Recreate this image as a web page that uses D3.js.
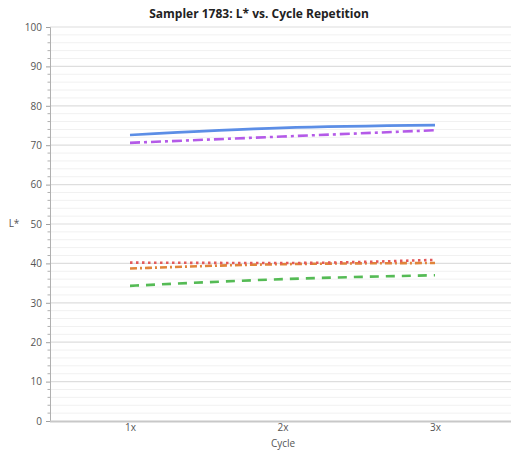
<!DOCTYPE html>
<html>
<head>
<meta charset="utf-8">
<script src="https://cdn.jsdelivr.net/npm/d3@7"></script>
<style>
  html, body { margin: 0; padding: 0; background: #fff; }
  svg { display: block; }
</style>
</head>
<body>
<svg id="chart" width="511" height="451"></svg>
<script>
// Cycle categories on the x axis
const cycles = ["1x", "2x", "3x"];
// L* readings per sample series
const seriesBlue   = [72.6, 74.4, 75.1];
const seriesPurple = [70.6, 72.2, 73.8];
const seriesRed    = [40.2, 40.1, 40.9];
const seriesOrange = [38.7, 39.8, 40.1];
const seriesGreen  = [34.3, 36.0, 37.0];
const yTicks = [0, 10, 20, 30, 40, 50, 60, 70, 80, 90, 100];

const series = [
  { values: seriesGreen,  color: "#55bb55", dash: "9,7" },
  { values: seriesOrange, color: "#e0843a", dash: "7,3,2,3" },
  { values: seriesRed,    color: "#e25a5a", dash: "2.5,3.5" },
  { values: seriesPurple, color: "#b45ae8", dash: "10,4,3,4" },
  { values: seriesBlue,   color: "#5c8ee6", dash: null }
];

const font = "'Open Sans', 'DejaVu Sans', sans-serif";
const svg = d3.select("#chart");
const plot = { left: 50, right: 515, top: 27, bottom: 421 };

const x = d3.scalePoint().domain(cycles).range([130, 435]);
const y = d3.scaleLinear().domain([0, 100]).range([plot.bottom, plot.top]);

// Minor gridlines every 2 units, major every 10
const minor = d3.range(0, 101, 2).filter(v => v % 10 !== 0);
svg.append("g").selectAll("line").data(minor).join("line")
  .attr("x1", plot.left).attr("x2", plot.right)
  .attr("y1", d => y(d)).attr("y2", d => y(d))
  .attr("stroke", "#f1f1f1").attr("stroke-width", 1);
svg.append("g").selectAll("line").data(yTicks.filter(v => v > 0)).join("line")
  .attr("x1", plot.left).attr("x2", plot.right)
  .attr("y1", d => y(d)).attr("y2", d => y(d))
  .attr("stroke", "#dedede").attr("stroke-width", 1.2);

// Y axis with major and minor ticks
const yAxis = d3.axisLeft(y).tickValues(yTicks).tickSize(4).tickPadding(4);
const gy = svg.append("g").attr("transform", `translate(${plot.left},0)`).call(yAxis);
gy.select(".domain").attr("stroke", "#b0b0b0");
gy.selectAll(".tick line").attr("stroke", "#a0a0a0");
gy.selectAll(".tick text").attr("fill", "#555").attr("font-size", 10)
  .attr("font-family", font);
svg.append("g").selectAll("line").data(minor).join("line")
  .attr("x1", plot.left - 2.5).attr("x2", plot.left)
  .attr("y1", d => y(d)).attr("y2", d => y(d))
  .attr("stroke", "#b0b0b0");

// X axis baseline and category labels
const xAxis = d3.axisBottom(x).tickSize(0).tickPadding(3);
const gx = svg.append("g").attr("transform", `translate(0,${plot.bottom})`).call(xAxis);
gx.select(".domain").remove();
svg.append("line")
  .attr("x1", plot.left).attr("x2", plot.right)
  .attr("y1", plot.bottom + 0.5).attr("y2", plot.bottom + 0.5)
  .attr("stroke", "#c8c8c8").attr("stroke-width", 2);
gx.selectAll(".tick text").attr("fill", "#555").attr("font-size", 10)
  .attr("font-family", font);

// Data lines
const line = d3.line()
  .x((d, i) => x(cycles[i]))
  .y(d => y(d))
  .curve(d3.curveMonotoneX);
svg.append("g").selectAll("path").data(series).join("path")
  .attr("d", d => line(d.values))
  .attr("fill", "none")
  .attr("stroke", d => d.color)
  .attr("stroke-width", 2.6)
  .attr("stroke-dasharray", d => d.dash);

// Titles
svg.append("text")
  .attr("x", 259).attr("y", 18)
  .attr("text-anchor", "middle")
  .attr("font-family", font)
  .attr("font-weight", "bold").attr("font-size", 12)
  .attr("fill", "#222")
  .text("Sampler 1783: L* vs. Cycle Repetition");
svg.append("text")
  .attr("x", 283).attr("y", 447)
  .attr("text-anchor", "middle")
  .attr("font-family", font)
  .attr("font-size", 10).attr("fill", "#555")
  .text("Cycle");
svg.append("text")
  .attr("x", 14).attr("y", 227)
  .attr("text-anchor", "middle")
  .attr("font-family", font)
  .attr("font-size", 10).attr("fill", "#555")
  .text("L*");
</script>
</body>
</html>
